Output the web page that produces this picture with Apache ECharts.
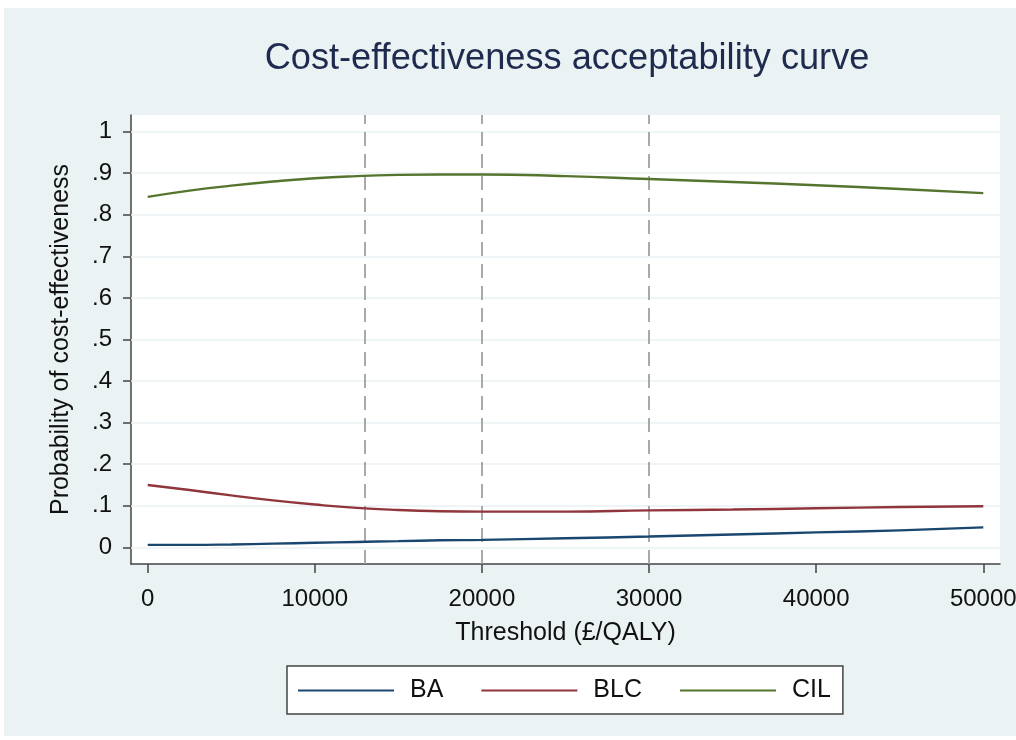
<!DOCTYPE html>
<html>
<head>
<meta charset="utf-8">
<title>Cost-effectiveness acceptability curve</title>
<script src="https://cdn.jsdelivr.net/npm/echarts@6/dist/echarts.min.js"></script>
<style>
  html, body { margin: 0; padding: 0; background: #ffffff; }
  #chart { width: 1016px; height: 740px; }
</style>
</head>
<body>
<div id="chart"></div>
<script>
// Willingness-to-pay thresholds (£/QALY)
const thresholds = [0, 2500, 5000, 7500, 10000, 12500, 15000, 17500, 20000, 25000, 30000, 35000, 40000, 45000, 50000];
// Probability each option is cost-effective at each threshold
const baValues  = [0.006, 0.006, 0.007, 0.009, 0.011, 0.013, 0.015, 0.017, 0.018, 0.022, 0.026, 0.031, 0.036, 0.041, 0.048];
const blcValues = [0.150, 0.138, 0.125, 0.113, 0.103, 0.095, 0.090, 0.087, 0.086, 0.086, 0.089, 0.091, 0.094, 0.097, 0.099];
const cilValues = [0.843, 0.858, 0.870, 0.880, 0.888, 0.893, 0.896, 0.897, 0.897, 0.893, 0.886, 0.879, 0.871, 0.862, 0.852];
const seriesNames = ['BA', 'BLC', 'CIL'];
// Axis ticks and reference thresholds
const xTicks = [0, 10000, 20000, 30000, 40000, 50000];
const yTicks = [0, 0.1, 0.2, 0.3, 0.4, 0.5, 0.6, 0.7, 0.8, 0.9, 1];
const refThresholds = [13000, 20000, 30000];

const colors = ['#1a476f', '#90353b', '#55752f'];
const font = '"Liberation Sans", Arial, sans-serif';

function pairs(xs, ys) { return xs.map((x, i) => [x, ys[i]]); }
function yLabel(v) {
  if (Math.abs(v) < 1e-9) return '0';
  if (Math.abs(v - 1) < 1e-9) return '1';
  return (Math.round(v * 10) / 10).toFixed(1).replace(/^0/, '');
}
function xLabel(v) { return String(Math.round(v)); }

const chart = echarts.init(document.getElementById('chart'), null, { renderer: 'canvas' });

const lineSeries = [baValues, blcValues, cilValues].map((vals, i) => ({
  name: seriesNames[i],
  type: 'line',
  data: pairs(thresholds, vals),
  smooth: true,
  symbol: 'none',
  z: 10,
  lineStyle: { color: colors[i], width: 2.4 },
  itemStyle: { color: colors[i] },
  emphasis: { disabled: true }
}));

// Horizontal grid lines and dashed reference thresholds
const guideSeries = {
  name: 'guides',
  type: 'line',
  data: [],
  silent: true,
  markLine: {
    silent: true,
    symbol: 'none',
    animation: false,
    z: 1,
    label: { show: false },
    data: [
      ...yTicks.map(v => ({ yAxis: v, lineStyle: { color: '#eaf2f3', width: 1.5, type: 'solid' } })),
      ...refThresholds.map(v => ({ xAxis: v, lineStyle: { color: '#a0a0a0', width: 1.8, type: [14, 8] } }))
    ]
  }
};

chart.setOption({
  animation: false,
  textStyle: { fontFamily: font },
  graphic: [{
    type: 'rect', z: -10, silent: true,
    shape: { x: 4, y: 8, width: 1012, height: 728 },
    style: { fill: '#eaf2f3' }
  }],
  title: {
    text: 'Cost-effectiveness acceptability curve',
    left: 562, top: 36, textAlign: 'center',
    textStyle: { fontFamily: font, fontSize: 36.2, fontWeight: 'normal', color: '#1e2b4e' }
  },
  grid: {
    left: 131, right: 16, top: 115, bottom: 176,
    outerBoundsMode: 'none',
    containLabel: false,
    show: true, backgroundColor: '#ffffff', borderWidth: 0
  },
  legend: {
    data: seriesNames,
    left: 287, top: 666,
    orient: 'horizontal',
    backgroundColor: '#ffffff',
    borderColor: '#444444', borderWidth: 1.5, borderRadius: 0,
    padding: [12, 12, 11, 11],
    itemWidth: 96, itemHeight: 20, itemGap: 38,
    icon: 'path://M0,9 L96,9 L96,11 L0,11 Z',
    textStyle: { fontFamily: font, fontSize: 25, color: '#111111', padding: [0, 0, 0, 11] }
  },
  xAxis: {
    type: 'value', min: -1000, max: 51000,
    name: 'Threshold (£/QALY)', nameLocation: 'middle', nameGap: 57,
    nameTextStyle: { fontFamily: font, fontSize: 25, color: '#111111' },
    axisLine: { show: true, onZero: false, lineStyle: { color: '#444444', width: 1.5 } },
    axisTick: { show: true, length: 9, customValues: xTicks, lineStyle: { color: '#444444', width: 1.5 } },
    axisLabel: { customValues: xTicks, margin: 23, fontFamily: font, fontSize: 24, color: '#111111', formatter: xLabel },
    splitLine: { show: false }
  },
  yAxis: {
    type: 'value', min: -0.04, max: 1.04,
    name: 'Probability of cost-effectiveness', nameLocation: 'middle', nameGap: 57,
    nameTextStyle: { fontFamily: font, fontSize: 25, color: '#111111' },
    axisLine: { show: true, onZero: false, lineStyle: { color: '#444444', width: 1.5 } },
    axisTick: { show: true, length: 8, customValues: yTicks, lineStyle: { color: '#444444', width: 1.5 } },
    axisLabel: { customValues: yTicks, margin: 19, fontFamily: font, fontSize: 24, color: '#111111', formatter: yLabel },
    splitLine: { show: false }
  },
  series: [guideSeries, ...lineSeries]
});
</script>
</body>
</html>
